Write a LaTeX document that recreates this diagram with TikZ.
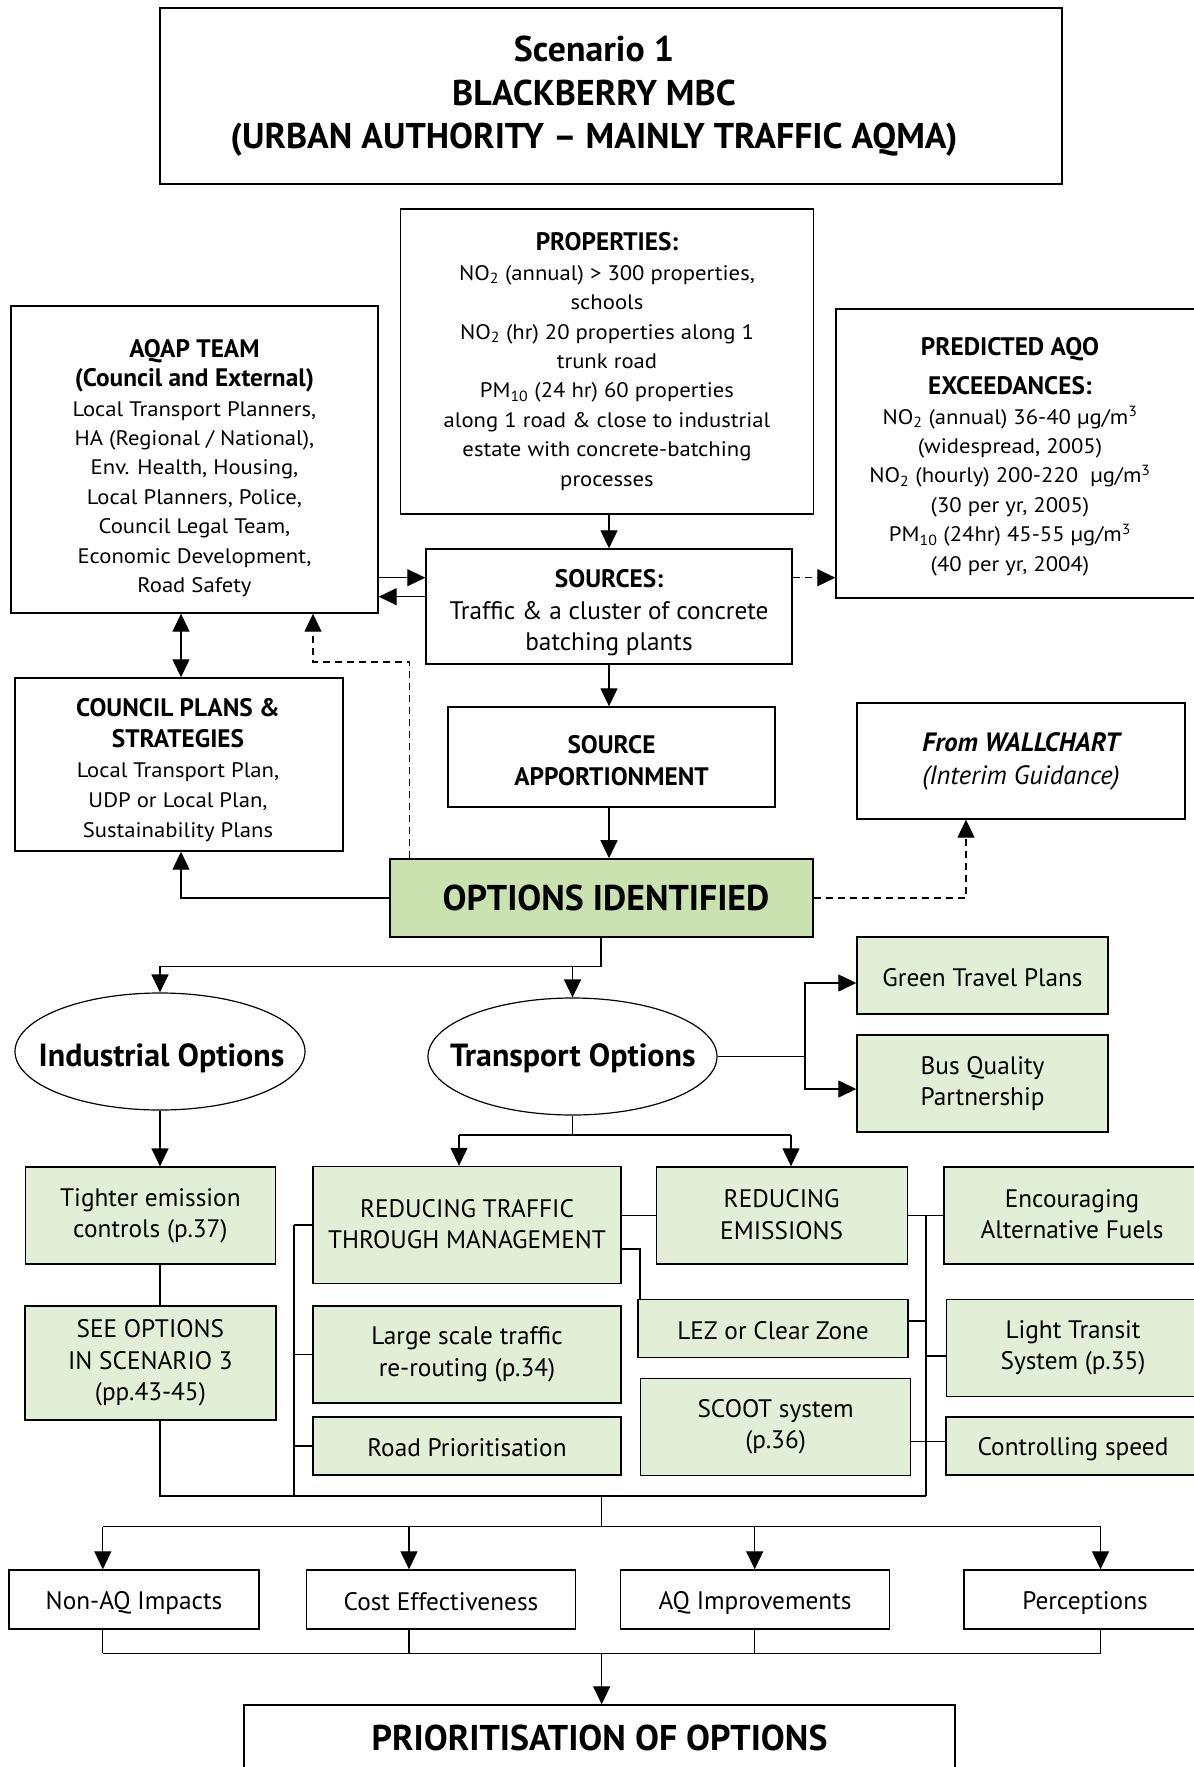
\documentclass[tikz,border=0pt]{standalone}
\usepackage{fontspec}
\setmainfont{PT Sans}
\newfontfamily\widefont{PT Sans}[FakeStretch=1.08]
\usetikzlibrary{arrows.meta,shapes.geometric}
\definecolor{optgreen}{HTML}{C9E2B0}
\definecolor{palegreen}{HTML}{E1EFD6}
% text sizes
\newcommand\smalltxt{\widefont\fontsize{21}{29.4}\selectfont}
\newcommand\counciltxt{\widefont\fontsize{21}{30.2}\selectfont}
\newcommand\largetxt{\normalfont\fontsize{25.3}{31.5}\selectfont}
\newcommand\walltxt{\normalfont\fontsize{26.5}{33}\selectfont}
\newcommand\hdrfont{\normalfont\fontsize{25.3}{29.6}\selectfont\bfseries}
\newcommand\apptxt{\normalfont\fontsize{25.3}{32.5}\selectfont\bfseries}
\newcommand\bigbold{\normalfont\fontsize{35.8}{43.5}\selectfont\bfseries}
\newcommand\ovalfont{\normalfont\fontsize{32}{34}\selectfont\bfseries}
% strut that keeps the first and last lines of a node evenly placed
\newcommand\balance{\rule[-0.1em]{0pt}{1.05em}}
\begin{document}
\begin{tikzpicture}[x=1pt,y=-1pt,
  box/.style={draw, line width=1.4pt, rectangle, inner sep=0pt, align=center, font=\smalltxt,
    execute at begin node=\balance, execute at end node=\balance},
  gbox/.style={box, fill=palegreen, font=\largetxt},
  wbox/.style={box, font=\largetxt},
  txt/.style={inner sep=0pt, align=center,
    execute at begin node=\balance, execute at end node=\balance},
  oval/.style={draw, ellipse, line width=1.2pt, inner sep=0pt},
  conn/.style={line width=1.3pt},
  arr/.style={conn, -{Triangle[length=18pt,width=17pt]}},
  darr/.style={arr, dash pattern=on 7pt off 5pt},
  biarr/.style={conn, {Triangle[length=18pt,width=17pt]}-{Triangle[length=18pt,width=17pt]}},
]
\useasboundingbox (0,0) rectangle (1194,1767);
\fill[white] (0,0) rectangle (1194,1767);
\clip (0,0) rectangle (1194,1767);

% ---------- heading ----------
\node[box, minimum width=902pt, minimum height=176pt] (title) at (611,96) {};
\node[txt, font=\bigbold] (titletxt) at (594,96.5)
  {Scenario 1\\BLACKBERRY MBC\\(URBAN AUTHORITY -- MAINLY TRAFFIC AQMA)};

% ---------- upper flow ----------
\node[box, minimum width=413pt, minimum height=305pt] (props) at (607,361.5)
  {{\hdrfont PROPERTIES:}\\
   NO\textsubscript{2} (annual) > 300 properties,\\
   schools\\
   NO\textsubscript{2} (hr) 20 properties along 1\\
   trunk road\\
   PM\textsubscript{10} (24 hr) 60 properties\\
   along 1 road \& close to industrial\\
   estate with concrete-batching\\
   processes};

\node[box, minimum width=367pt, minimum height=307pt] (aqap) at (194.5,459.5) {};
\node[txt, font=\smalltxt] (aqaptxt) at (194.5,468)
  {{\hdrfont AQAP TEAM}\\
   {\hdrfont (Council and External)}\\
   Local Transport Planners,\\
   HA (Regional / National),\\
   Env. Health, Housing,\\
   Local Planners, Police,\\
   Council Legal Team,\\
   Economic Development,\\
   Road Safety};

\node[wbox, minimum width=366pt, minimum height=115pt] (sources) at (609,606.5) {};
\node[txt, font=\largetxt] (sourcestxt) at (609,613)
  {{\hdrfont SOURCES:}\\Traffic \& a cluster of concrete\\batching plants};

\node[box, minimum width=384pt, minimum height=289pt] (pred) at (1028,453.5) {};
\node[txt, font=\smalltxt] (predtxt) at (1010,456.5)
  {{\hdrfont PREDICTED AQO}\\[10pt]
   {\hdrfont EXCEEDANCES:}\\
   NO\textsubscript{2} (annual) 36-40 µg/m\textsuperscript{3}\\
   (widespread, 2005)\\
   NO\textsubscript{2} (hourly) 200-220~~µg/m\textsuperscript{3}\\
   (30 per yr, 2005)\\
   PM\textsubscript{10} (24hr) 45-55 µg/m\textsuperscript{3}\\
   (40 per yr, 2004)};

\node[box, minimum width=328pt, minimum height=173pt] (council) at (179,764.5) {};
\node[txt, font=\counciltxt] (counciltext) at (178,770.5)
  {{\hdrfont COUNCIL PLANS \&}\\
   {\hdrfont STRATEGIES}\\
   Local Transport Plan,\\
   UDP or Local Plan,\\
   Sustainability Plans};

\node[box, minimum width=327pt, minimum height=100pt] (srcapp) at (611.5,757) {};
\node[txt, font=\apptxt] (srcapptxt) at (611.5,761.5) {SOURCE\\APPORTIONMENT};

\node[box, minimum width=328pt, minimum height=116pt, font=\walltxt] (wall) at (1021,761)
  {{\bfseries\itshape From WALLCHART}\\{\itshape (Interim Guidance)}};

\node[box, fill=optgreen, line width=1.6pt, minimum width=423pt, minimum height=78pt] (options) at (601.5,898) {};
\node[txt, font=\bigbold] (optionstxt) at (606,895) {OPTIONS IDENTIFIED};

% ---------- option groups ----------
\node[oval, minimum width=290pt, minimum height=117pt] (indus) at (160,1051.5) {};
\node[txt, font=\ovalfont] (industxt) at (161.5,1054) {Industrial Options};
\node[oval, minimum width=289pt, minimum height=117pt] (transp) at (572.5,1056.5) {};
\node[txt, font=\ovalfont] (transptxt) at (572.8,1054) {Transport Options};

\node[gbox, minimum width=251pt, minimum height=77pt] (green) at (982.5,975.4) {Green Travel Plans};
\node[gbox, minimum width=251pt, minimum height=97pt] (bus) at (982.5,1083.6) {Bus Quality\\Partnership};

\node[gbox, minimum width=250pt, minimum height=97pt] (tight) at (150.4,1215.6) {Tighter emission\\controls (p.37)};
\node[gbox, minimum width=251pt, minimum height=114pt] (see) at (150.4,1363) {SEE OPTIONS\\IN SCENARIO 3\\(pp.43-45)};

\node[gbox, minimum width=308pt, minimum height=117pt] (rt) at (467,1225) {REDUCING TRAFFIC\\THROUGH MANAGEMENT};
\node[gbox, minimum width=308pt, minimum height=97pt] (large) at (467,1354.4) {Large scale traffic\\re-routing (p.34)};
\node[gbox, minimum width=308pt, minimum height=58pt] (road) at (467,1446) {Road Prioritisation};

\node[gbox, minimum width=251pt, minimum height=97pt] (re) at (781.7,1215.5) {REDUCING\\EMISSIONS};
\node[gbox, minimum width=270pt, minimum height=58pt] (lez) at (773,1328.3) {LEZ or Clear Zone};
\node[gbox, minimum width=270pt, minimum height=97pt] (scoot) at (775.6,1426.7) {SCOOT system\\(p.36)};

\node[gbox, minimum width=256pt, minimum height=97pt] (enc) at (1072,1215.5) {Encouraging\\Alternative Fuels};
\node[gbox, minimum width=253pt, minimum height=97pt] (light) at (1073,1347.7) {Light Transit\\System (p.35)};
\node[gbox, minimum width=254pt, minimum height=58pt] (ctrl) at (1073,1446) {Controlling speed};

% ---------- assessment ----------
\node[wbox, minimum width=250pt, minimum height=59pt] (nonaq) at (134,1599.5) {Non-AQ Impacts};
\node[wbox, minimum width=269pt, minimum height=59pt] (cost) at (441,1599.5) {Cost Effectiveness};
\node[wbox, minimum width=269pt, minimum height=59pt] (aqi) at (755,1599.5) {AQ Improvements};
\node[wbox, minimum width=242pt, minimum height=59pt] (perc) at (1085,1599.5) {Perceptions};

\node[box, minimum width=711pt, minimum height=64pt] (prior) at (599.5,1737) {};
\node[txt, font=\bigbold] (priortxt) at (599.5,1735) {PRIORITISATION OF OPTIONS};

% ---------- connectors: upper flow ----------
\coordinate (r1) at (0,577.7);
\coordinate (r2) at (0,596.7);
\coordinate (c1) at (181,0);
\coordinate (d1) at (409.5,662);
\coordinate (d2) at (313,662);
\coordinate (w1) at (966,0);

\draw[arr] (props.south -| sources.north) -- (sources.north);
\draw[arr] (sources.south) -- (sources.south |- srcapp.north);
\draw[arr] (sources.south |- srcapp.south) -- (sources.south |- options.north);
\draw[arr] (aqap.east |- r1) -- (sources.west |- r1);
\draw[arr] (sources.west |- r2) -- (aqap.east |- r2);
\draw[darr] (sources.east |- r1) -- (pred.west |- r1);
\draw[biarr] (c1 |- aqap.south) -- (c1 |- council.north);
\draw[darr] (d1 |- options.north) -- (d1) -- (d2) -- (d2 |- aqap.south);
\draw[arr] (options.west) -| (council.south -| c1);
\draw[darr] (options.east) -| (w1 |- wall.south);

% ---------- connectors: option groups ----------
\coordinate (o1) at (601,966.7);
\draw[arr] (options.south -| o1) -- (o1) -| (indus.north);
\draw[arr] (o1) -| (transp.north);

\coordinate (g1) at (805,983);
\coordinate (b1) at (805,1089);
\draw[arr] (transp.east) -- (transp.east -| g1) -- (g1) -- (g1 -| green.west);
\draw[arr] (transp.east -| b1) -- (b1) -- (b1 -| bus.west);

\coordinate (ta) at (459,1135);
\coordinate (tb) at (791,1135);
\draw[conn] (transp.south) -- (transp.south |- ta);
\draw[conn] (ta) -- (tb);
\draw[arr] (ta) -- (ta |- rt.north);
\draw[arr] (tb) -- (tb |- re.north);

\draw[arr] (indus.south) -- (indus.south |- tight.north);
\draw[conn] (indus.south |- tight.south) -- (indus.south |- see.north);

% left bus
\coordinate (lb) at (294,0);
\coordinate (bb) at (0,1496);
\draw[conn] (lb |- rt.west) -- (lb |- bb);
\draw[conn] (lb |- rt.west) -- (rt.west);
\draw[conn] (lb |- large.west) -- (large.west);
\draw[conn] (lb |- road.west) -- (road.west);

% middle column
\coordinate (lx) at (640,1249);
\draw[conn] (rt.east |- re.east) -- (re.west);
\draw[conn] (rt.east |- lx) -- (lx) -- (lx |- lez.north);

% right bus
\coordinate (rb) at (926,0);
\coordinate (lz) at (926,1321);
\coordinate (lt) at (926,1356);
\coordinate (sc) at (0,1441.7);
\draw[conn] (re.east) -- (enc.west |- re.east);
\draw[conn] (rb |- re.east) -- (rb |- bb);
\draw[conn] (lez.east |- lz) -- (lz);
\draw[conn] (lt) -- (lt -| light.west);
\draw[conn] (scoot.east |- sc) -- (ctrl.west |- sc);

% collecting line
\draw[conn] (indus.south |- see.south) -- (indus.south |- bb) -- (rb |- bb);

% ---------- connectors: assessment ----------
\coordinate (e0) at (601.7,1496);
\coordinate (e1) at (601.7,1526.7);
\coordinate (ea) at (102.8,1526.7);
\coordinate (eb) at (409,1526.7);
\coordinate (ec) at (754.7,1526.7);
\coordinate (ed) at (1100.5,1526.7);
\draw[conn] (e0) -- (e1);
\draw[conn] (ea) -- (ed);
\draw[arr] (ea) -- (ea |- nonaq.north);
\draw[arr] (eb) -- (eb |- cost.north);
\draw[arr] (ec) -- (ec |- aqi.north);
\draw[arr] (ed) -- (ed |- perc.north);

\coordinate (f0) at (601.7,1653.3);
\coordinate (fa) at (102.8,1653.3);
\coordinate (fb) at (409,1653.3);
\coordinate (fc) at (754.7,1653.3);
\coordinate (fd) at (1100.5,1653.3);
\draw[conn] (fa |- nonaq.south) -- (fa);
\draw[conn] (fb |- cost.south) -- (fb);
\draw[conn] (fc |- aqi.south) -- (fc);
\draw[conn] (fd |- perc.south) -- (fd);
\draw[conn] (fa) -- (fd);
\draw[arr] (f0) -- (f0 |- prior.north);
\end{tikzpicture}
\end{document}
